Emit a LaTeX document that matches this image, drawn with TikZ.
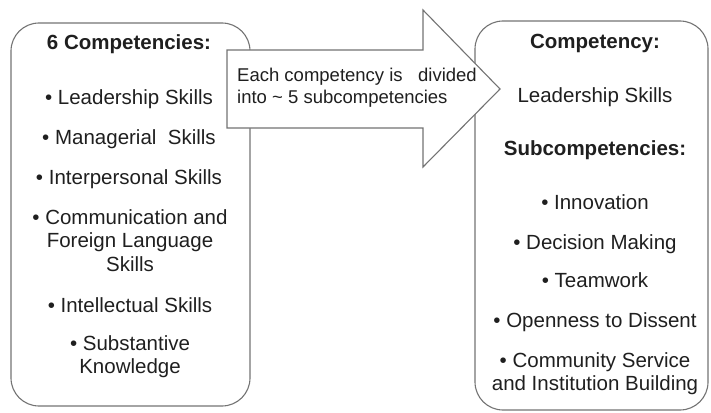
\documentclass[tikz,border=0pt]{standalone}
\usepackage{fontspec}
\setmainfont{Liberation Sans}
\usepackage{xcolor}
\usepackage{tikz}
\definecolor{boxgray}{rgb}{0.45, 0.45, 0.45}
\definecolor{textgray}{rgb}{0.12, 0.12, 0.12}
\usetikzlibrary{positioning}
\tikzset{
	compbox/.style = {draw = boxgray, line width = 1.1pt, rounded corners = 28pt, inner sep = 0pt},
	itemtxt/.style = {anchor = north, align = center, inner sep = 0pt, text = textgray, font = \fontsize{20.5}{23.5}\selectfont},
	headtxt/.style = {itemtxt, font = \bfseries\fontsize{20.5}{23.5}\selectfont},
	bigarrow/.style = {draw = boxgray, line width = 1.1pt, fill = white, line join = miter},
	arrowtxt/.style = {anchor = north west, align = left, inner sep = 0pt, text = textgray, font = \fontsize{18.5}{22}\selectfont}
}

\begin{document}
\begin{tikzpicture}[x = 1pt, y = -1pt]
	\useasboundingbox (0,0) rectangle (711,412);
	
	\node[compbox, minimum width = 239pt, minimum height = 383pt] (lbox) at (130.5,214.5) {};
	
	\node[compbox, minimum width = 233pt, minimum height = 389pt] (rbox) at (591.5,215.5) {};
	
	% the big arrow lies over both boxes
	\draw[bigarrow] (227,50) -- (423,50) -- (423,10) -- (500,89) -- (423,167) -- (423,128) -- (227,128) -- cycle;
	
	\node[arrowtxt] (divide) at (237,68) {Each competency is\ \ \ divided\\into \textasciitilde\ 5 subcompetencies};
	
	\node[headtxt] (lhead) at (129,34) {6 Competencies:};
	
	\node[itemtxt] (lead) at (129,89) {• Leadership Skills};
	
	\node[itemtxt] (manag) at (129,129) {• Managerial\ \ Skills};
	
	\node[itemtxt] (inter) at (129,169) {• Interpersonal Skills};
	
	\node[itemtxt] (comm) at (130,209) {• Communication and\\Foreign Language\\Skills};
	
	\node[itemtxt] (intel) at (130,297) {• Intellectual Skills};
	
	\node[itemtxt] (subst) at (130,335) {• Substantive\\Knowledge};
	
	\node[headtxt] (rhead) at (595,34) {Competency:};
	
	\node[itemtxt] (rlead) at (595,87) {Leadership Skills};
	
	\node[headtxt] (subhead) at (595,140) {Subcompetencies:};
	
	\node[itemtxt] (innov) at (595,194) {• Innovation};
	
	\node[itemtxt] (decis) at (595,234) {• Decision Making};
	
	\node[itemtxt] (team) at (595,272) {• Teamwork};
	
	\node[itemtxt] (open) at (595,312) {• Openness to Dissent};
	
	\node[itemtxt] (commserv) at (595,352) {• Community Service\\and Institution Building};
\end{tikzpicture}
\end{document}
